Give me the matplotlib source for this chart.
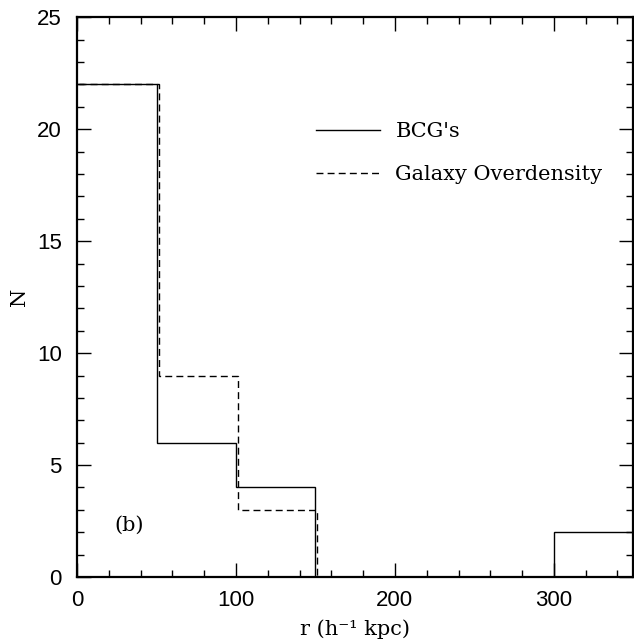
import numpy as np
import matplotlib.pyplot as plt
import matplotlib.transforms as mtransforms
from matplotlib.ticker import MultipleLocator

# bin edges in h^-1 kpc
edges = [0, 50, 100, 150, 200, 250, 300, 350]
bcg_counts = [22, 6, 4, 0, 0, 0, 2]
overdens_counts = [22, 9, 3, 0, 0, 0, 0]

txtfont = "DejaVu Serif"
numfont = "Liberation Sans"

fig = plt.figure(figsize=(6.34, 6.39), dpi=100)
ax = fig.add_axes([0.1215, 0.097, 0.8775, 0.876])

ax.stairs(bcg_counts, edges, baseline=None, color="black", lw=1.0, label="BCG's")
# dashed one sits a hair to the right in the original
shift = mtransforms.offset_copy(ax.transData, fig=fig, x=2, y=0, units="dots")
ax.stairs(overdens_counts, edges, baseline=None, color="black", lw=1.0,
          linestyle=(0, (5, 3)), transform=shift, label="Galaxy Overdensity")

ax.set_xlim(0, 350)
ax.set_ylim(0, 25)

ax.xaxis.set_major_locator(MultipleLocator(100))
ax.xaxis.set_minor_locator(MultipleLocator(20))
ax.yaxis.set_major_locator(MultipleLocator(5))
ax.yaxis.set_minor_locator(MultipleLocator(1))
ax.tick_params(which="both", direction="in", top=True, right=True, width=1.0)
ax.tick_params(which="major", length=10, labelsize=16)
ax.tick_params(axis="x", which="major", pad=9)
ax.tick_params(axis="y", which="major", pad=11)
ax.tick_params(which="minor", length=5)
for s in ax.spines.values():
    s.set_linewidth(1.6)
for lab in ax.get_xticklabels() + ax.get_yticklabels():
    lab.set_family(numfont)

ax.set_xlabel("r (h⁻¹ kpc)", family=txtfont, fontsize=15, labelpad=6)
ax.set_ylabel("N", family=txtfont, fontsize=15, labelpad=6)

ax.text(33, 2.3, "(b)", family=txtfont, fontsize=15, ha="center", va="center")

leg = ax.legend(loc="upper left", bbox_to_anchor=(0.43, 0.813), frameon=False,
                borderaxespad=0, borderpad=0,
                handlelength=3.08, handletextpad=0.72, labelspacing=1.15,
                prop={"family": txtfont, "size": 15})

fig.savefig("out.png", dpi=100)
